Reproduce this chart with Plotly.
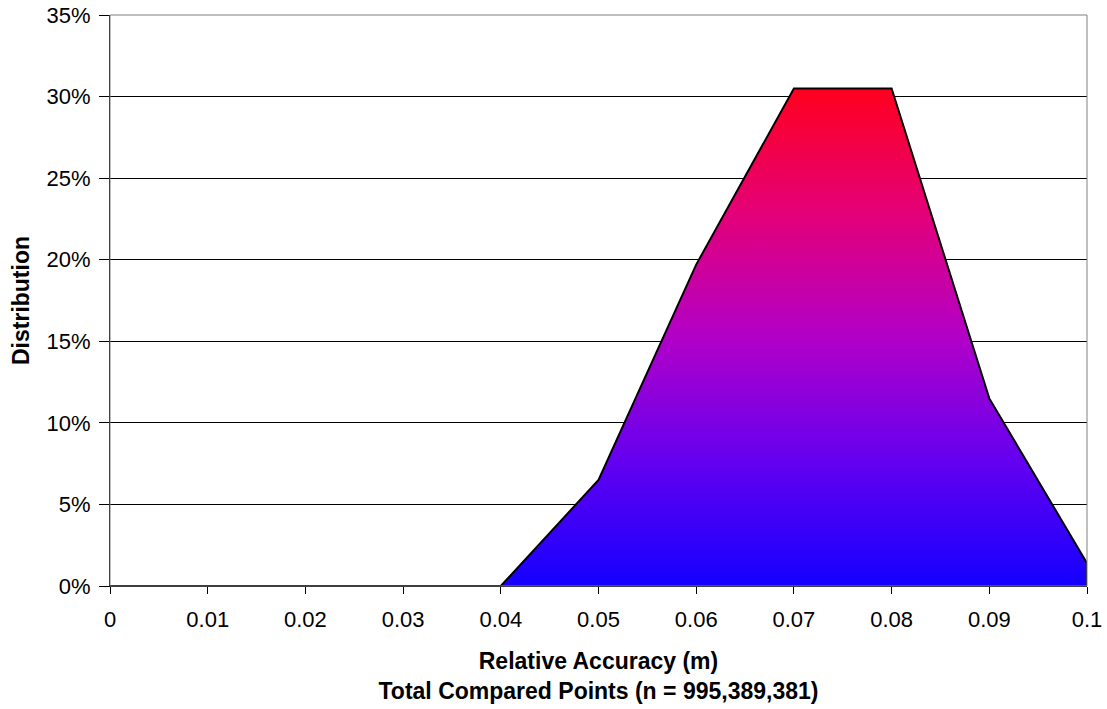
import plotly.graph_objects as go

# Relative accuracy bins (m) and share of compared points in each bin (%)
accuracy_m = [0.0, 0.01, 0.02, 0.03, 0.04, 0.05, 0.06, 0.07, 0.08, 0.09, 0.1]
distribution_pct = [0.0, 0.0, 0.0, 0.0, 0.0, 6.5, 19.7, 30.5, 30.5, 11.5, 1.4]

y_ticks = [0, 5, 10, 15, 20, 25, 30, 35]
y_tick_text = [f"{v}%" for v in y_ticks]
x_ticks = [0, 0.01, 0.02, 0.03, 0.04, 0.05, 0.06, 0.07, 0.08, 0.09, 0.1]
x_tick_text = ["0", "0.01", "0.02", "0.03", "0.04", "0.05", "0.06", "0.07", "0.08", "0.09", "0.1"]

x_title = "<b>Relative Accuracy (m)<br>Total Compared Points (n = 995,389,381)</b>"
y_title = "<b>Distribution</b>"

FONT = "Liberation Sans, Arial, sans-serif"

fig = go.Figure()

# Area with a blue-to-red vertical gradient
fig.add_trace(go.Scatter(
    x=accuracy_m, y=distribution_pct,
    mode="lines", line=dict(width=0, color="rgba(0,0,0,0)"),
    fill="tozeroy",
    fillgradient=dict(
        type="vertical",
        colorscale=[[0.0, "rgb(20,0,255)"], [0.25, "rgb(100,0,240)"],
                    [0.5, "rgb(178,0,200)"], [0.75, "rgb(228,0,120)"],
                    [1.0, "rgb(255,0,30)"]],
        start=0, stop=max(distribution_pct),
    ),
    hoverinfo="skip", showlegend=False,
))

# Outline of the area, closed down to the baseline at the last bin
outline_x = accuracy_m + [accuracy_m[-1]]
outline_y = distribution_pct + [0]
fig.add_trace(go.Scatter(
    x=outline_x, y=outline_y, mode="lines",
    line=dict(color="black", width=2),
    showlegend=False,
))

fig.update_layout(
    width=1107, height=709,
    margin=dict(l=110, r=20, t=15, b=123, autoexpand=False),
    paper_bgcolor="white", plot_bgcolor="white",
    font=dict(family=FONT, size=22, color="black"),
    shapes=[dict(type="rect", xref="paper", yref="paper", x0=0, x1=1, y0=0, y1=1,
                 line=dict(color="#808080", width=1), layer="above")],
)

fig.update_xaxes(
    automargin=False,
    range=[0, 0.1], tickvals=x_ticks, ticktext=x_tick_text,
    ticks="outside", ticklen=7, tickcolor="black", tickwidth=1,
    ticklabelstandoff=7,
    showline=True, linecolor="black", linewidth=1,
    showgrid=False, zeroline=False,
    tickfont=dict(size=22),
    title=dict(text=x_title, font=dict(size=23), standoff=21),
)
fig.update_yaxes(
    automargin=False,
    range=[0, 35], tickvals=y_ticks, ticktext=y_tick_text,
    ticks="outside", ticklen=10, tickcolor="black", tickwidth=1,
    ticklabelstandoff=4,
    showline=True, linecolor="black", linewidth=1,
    showgrid=True, gridcolor="black", gridwidth=1, zeroline=False,
    tickfont=dict(size=22),
    title=dict(text=y_title, font=dict(size=23), standoff=10),
)

fig.write_html("out.html")
